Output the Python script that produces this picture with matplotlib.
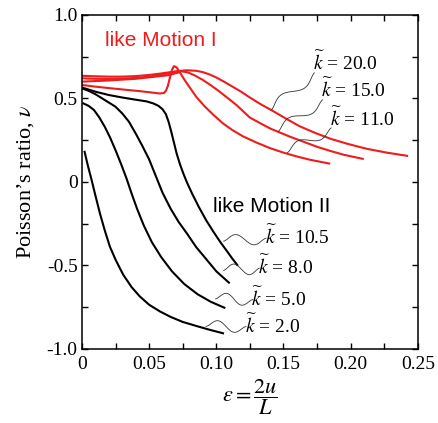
import numpy as np
import matplotlib
matplotlib.use("Agg")
import matplotlib.pyplot as plt

plt.rcParams['font.family'] = ['Liberation Serif', 'DejaVu Serif']
plt.rcParams['mathtext.fontset'] = 'stix'

# --- data ---
# red curves (like Motion I)
k20_x = [0, 0.01, 0.02, 0.03, 0.04, 0.05, 0.06, 0.07, 0.078, 0.085, 0.09, 0.095, 0.10, 0.105,
         0.11, 0.118, 0.125, 0.133, 0.142, 0.152, 0.162, 0.173, 0.185, 0.198, 0.212, 0.227, 0.242]
k20_y = [0.635, 0.632, 0.63, 0.63, 0.633, 0.64, 0.65, 0.662, 0.668, 0.665, 0.657, 0.643, 0.625, 0.603,
         0.58, 0.542, 0.505, 0.465, 0.425, 0.378, 0.333, 0.295, 0.258, 0.227, 0.198, 0.175, 0.156]

k15_x = [0, 0.01, 0.02, 0.03, 0.04, 0.05, 0.06, 0.068, 0.074, 0.079, 0.084, 0.09, 0.096, 0.102,
         0.108, 0.115, 0.125, 0.133, 0.14, 0.148, 0.155, 0.165, 0.175, 0.185, 0.195, 0.209]
k15_y = [0.62, 0.617, 0.616, 0.618, 0.622, 0.63, 0.642, 0.655, 0.662, 0.655, 0.637, 0.61, 0.578, 0.543,
         0.505, 0.46, 0.385, 0.35, 0.32, 0.293, 0.27, 0.24, 0.21, 0.185, 0.162, 0.138]

extra_x = [0, 0.02, 0.04, 0.064, 0.072]
extra_y = [0.60, 0.607, 0.617, 0.638, 0.655]

k11_x = [0, 0.01, 0.023, 0.033, 0.043, 0.051, 0.058, 0.061, 0.0625, 0.064, 0.0655, 0.067, 0.0685,
         0.0705, 0.073, 0.076, 0.08, 0.085, 0.091, 0.098, 0.105, 0.112, 0.12, 0.13, 0.14, 0.15,
         0.16, 0.17, 0.184]
k11_y = [0.58, 0.57, 0.559, 0.551, 0.543, 0.536, 0.529, 0.532, 0.545, 0.575, 0.625, 0.67, 0.693,
         0.685, 0.655, 0.615, 0.568, 0.51, 0.455, 0.40, 0.35, 0.31, 0.272, 0.235, 0.202, 0.175,
         0.152, 0.132, 0.11]

# black curves (like Motion II)
k105_x = [0, 0.01, 0.02, 0.03, 0.04, 0.048, 0.053, 0.057, 0.06, 0.0625, 0.0645, 0.0665, 0.0685,
          0.0705, 0.073, 0.0755, 0.078, 0.082, 0.087, 0.0925, 0.098, 0.103, 0.108, 0.112, 0.1156]
k105_y = [0.565, 0.54, 0.52, 0.505, 0.492, 0.482, 0.47, 0.455, 0.435, 0.405, 0.36, 0.30, 0.235,
          0.17, 0.105, 0.05, 0.0, -0.07, -0.15, -0.23, -0.30, -0.36, -0.415, -0.46, -0.497]

k8_x = [0, 0.005, 0.01, 0.015, 0.02, 0.025, 0.03, 0.035, 0.04, 0.045, 0.05, 0.055, 0.06, 0.066,
        0.072, 0.078, 0.085, 0.093, 0.1, 0.1094]
k8_y = [0.56, 0.545, 0.525, 0.50, 0.475, 0.45, 0.41, 0.36, 0.29, 0.215, 0.135, 0.035, -0.065, -0.16,
        -0.24, -0.307, -0.39, -0.467, -0.535, -0.603]

k5_x = [0.001, 0.005, 0.009, 0.013, 0.017, 0.021, 0.025, 0.029, 0.033, 0.037, 0.041, 0.046, 0.052,
        0.059, 0.067, 0.076, 0.086, 0.096, 0.106]
k5_y = [0.47, 0.455, 0.43, 0.385, 0.33, 0.265, 0.19, 0.11, 0.025, -0.07, -0.16, -0.26, -0.36,
        -0.45, -0.535, -0.61, -0.672, -0.718, -0.753]

k2_x = [0.002, 0.0045, 0.0072, 0.010, 0.0134, 0.017, 0.0208, 0.025, 0.0307, 0.037, 0.043, 0.05,
        0.058, 0.066, 0.075, 0.085, 0.095, 0.105]
k2_y = [0.18, 0.095, 0.012, -0.08, -0.188, -0.29, -0.387, -0.465, -0.555, -0.63, -0.685, -0.735,
        -0.775, -0.808, -0.838, -0.862, -0.885, -0.906]

red_labels = ['20.0', '15.0', '11.0']
black_labels = ['10.5', '8.0', '5.0', '2.0']

fig = plt.figure(figsize=(4.38, 4.23), dpi=100)
ax = fig.add_axes([0.187, 0.175, 0.767, 0.79])

for xs, ys in [(k20_x, k20_y), (k15_x, k15_y), (extra_x, extra_y), (k11_x, k11_y)]:
    ax.plot(xs, ys, color='#ee1c1c', lw=1.5, solid_joinstyle='round')
for xs, ys in [(k105_x, k105_y), (k8_x, k8_y), (k5_x, k5_y), (k2_x, k2_y)]:
    ax.plot(xs, ys, color='black', lw=1.5, solid_joinstyle='round')


def squiggle(ax, p0, p1, amp=0.018):
    # wavy leader line, drawn in axes fraction
    t = np.linspace(0, 1, 60)
    a = ax.transLimits.transform(p0)
    b = ax.transLimits.transform(p1)
    d = b - a
    n = np.array([-d[1], d[0]]) / np.hypot(*d)
    off = amp * np.sin(2 * np.pi * t) * np.sin(np.pi * t) ** 0.5
    pts = a[None, :] + t[:, None] * d[None, :] + off[:, None] * n[None, :]
    ax.plot(pts[:, 0], pts[:, 1], color='#333333', lw=0.6, transform=ax.transAxes)


ax.set_xlim(0, 0.25)
ax.set_ylim(-1.0, 1.0)

# labels for red curves
red_pos = [(0.172, 0.713), (0.178, 0.551), (0.1845, 0.383)]
red_tip = [(0.141, 0.43), (0.146, 0.30), (0.153, 0.175)]
for lab, (tx, ty), tip in zip(red_labels, red_pos, red_tip):
    ax.text(tx, ty, r'$\widetilde{k}$ = %s' % lab, fontsize=14, va='center', ha='left')
    squiggle(ax, (tx + 0.001, ty - 0.06), tip)

black_pos = [(0.136, -0.327), (0.131, -0.507), (0.126, -0.695), (0.121, -0.856)]
black_tip = [(0.1055, -0.355), (0.1055, -0.53), (0.0995, -0.70), (0.0925, -0.865)]
for lab, (tx, ty), tip in zip(black_labels, black_pos, black_tip):
    ax.text(tx, ty, r'$\widetilde{k}$ = %s' % lab, fontsize=14, va='center', ha='left')
    squiggle(ax, (tx + 0.001, ty - 0.01), tip, amp=0.02)

ax.text(0.0171, 0.844, 'like Motion I', color='#ee1c1c', fontsize=15,
        family=['Liberation Sans', 'DejaVu Sans'], va='center', ha='left')
ax.text(0.0977, -0.15, 'like Motion II', color='black', fontsize=15,
        family=['Liberation Sans', 'DejaVu Sans'], va='center', ha='left')

ax.set_xticks([0, 0.05, 0.10, 0.15, 0.20, 0.25])
ax.set_xticklabels(['0', '0.05', '0.10', '0.15', '0.20', '0.25'])
ax.set_yticks([-1.0, -0.5, 0, 0.5, 1.0])
ax.set_yticklabels(['-1.0', '-0.5', '0', '0.5', '1.0'])
ax.set_xticks(np.arange(0, 0.26, 0.025), minor=True)
ax.set_yticks(np.arange(-1.0, 1.01, 0.25), minor=True)
ax.tick_params(which='both', direction='in', top=True, right=True, length=4, width=1,
               labelsize=14)
ax.tick_params(axis='x', pad=5)
ax.tick_params(axis='y', pad=3)
for s in ax.spines.values():
    s.set_linewidth(1.1)

ax.set_ylabel(r"Poisson’s ratio, $\nu$", fontsize=16, labelpad=8)
ax.set_xlabel(r'$\varepsilon = \dfrac{2u}{L}$', fontsize=16, labelpad=3)

fig.savefig('out.png', dpi=100)
